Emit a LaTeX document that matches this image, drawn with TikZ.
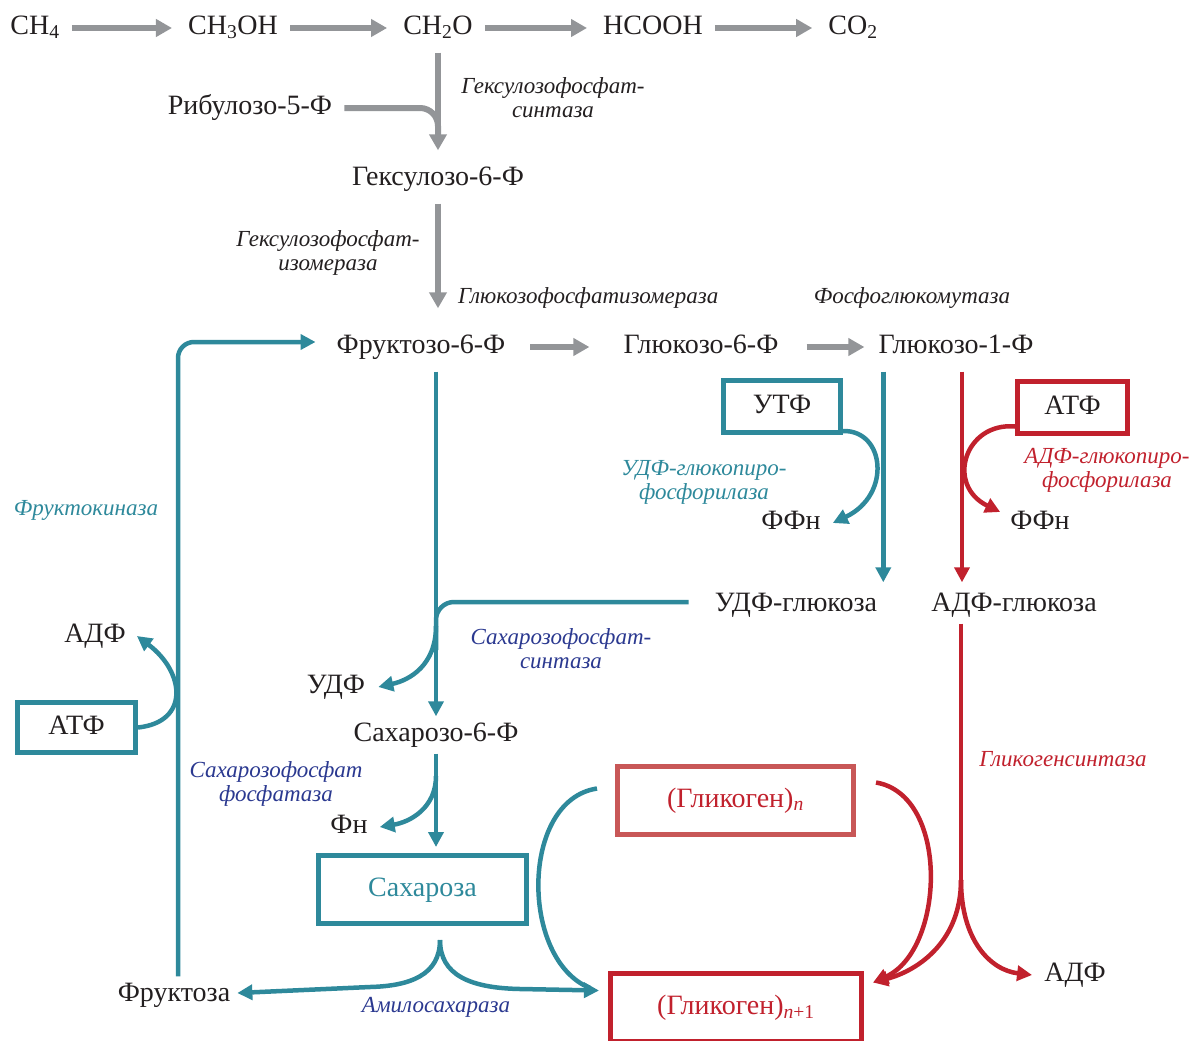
\documentclass[tikz,border=0pt]{standalone}
\usepackage{fontspec}
\setmainfont{Liberation Serif}
\usetikzlibrary{arrows.meta,positioning,calc}
\definecolor{cgray}{HTML}{939598}
\definecolor{cteal}{HTML}{2E899B}
\definecolor{cred}{HTML}{C1212D}
\definecolor{cpink}{HTML}{C85757}
\definecolor{cblue}{HTML}{2B3990}
\definecolor{ctext}{HTML}{231F20}
\tikzset{
  chem/.style={text=ctext, font=\fontsize{28}{30}\selectfont, text height=19pt, text depth=6pt, inner sep=6pt},
  enz/.style={font=\fontsize{23}{24}\selectfont\itshape, align=center, inner sep=0pt},
  boxed/.style={chem, draw, line width=5pt},
  grayarr/.style={draw=cgray, line width=6pt, shorten <=6pt, shorten >=10pt, -{Triangle[width=17pt,length=16pt]}},
  tealline/.style={draw=cteal, line width=4.5pt},
  tealarr/.style={tealline, -{Triangle[width=15pt,length=15pt]}},
  redline/.style={draw=cred, line width=4.5pt},
  redarr/.style={redline, -{Triangle[width=15pt,length=15pt]}}
}
\begin{document}
\begin{tikzpicture}[x=1pt, y=-1pt]
  \useasboundingbox (0,0) rectangle (1197,1041);
  \node[chem] (ch4) at (35,28) {CH\textsubscript{4}};
  \node[chem] (ch3oh) at (233,28) {CH\textsubscript{3}OH};
  \node[chem] (ch2o) at (438,28) {CH\textsubscript{2}O};
  \node[chem] (hcooh) at (653,28) {HCOOH};
  \node[chem] (co2) at (853,28) {CO\textsubscript{2}};
  \node[chem] (ribu) at (250,108) {Рибулозо-5-Ф};
  \node[chem] (hexu) at (438,179) {Гексулозо-6-Ф};
  \node[chem] (fru) at (421,347) {Фруктозо-6-Ф};
  \node[chem] (g6p) at (701,347) {Глюкозо-6-Ф};
  \node[chem] (g1p) at (956,347) {Глюкозо-1-Ф};
  \node[boxed, draw=cteal, minimum width=117pt, minimum height=52pt] (utp) at (782,406.5) {УТФ};
  \node[boxed, draw=cred, minimum width=110pt, minimum height=52pt] (atpR) at (1072.5,407.5) {АТФ};
  \node[chem] (ffnT) at (791,523) {ФФн};
  \node[chem] (ffnR) at (1040,523) {ФФн};
  \node[chem] (udpg) at (796,605) {УДФ-глюкоза};
  \node[chem] (adpg) at (1014,605) {АДФ-глюкоза};
  \node[chem] (adpL) at (95,636) {АДФ};
  \node[chem] (udp) at (336,687) {УДФ};
  \node[boxed, draw=cteal, minimum width=118pt, minimum height=50pt] (atpL) at (76.5,727.5) {АТФ};
  \node[chem] (s6p) at (436,735) {Сахарозо-6-Ф};
  \node[chem] (phn) at (349,827) {Фн};
  \node[boxed, draw=cteal, text=cteal, minimum width=208pt, minimum height=68pt] (sucrose) at (422.5,889.5) {Сахароза};
  \node[boxed, draw=cpink, text=cred, minimum width=236pt, minimum height=68pt] (glycn) at (735.5,800.5) {(Гликоген)\textsubscript{\textit{n}}};
  \node[boxed, draw=cred, text=cred, minimum width=251pt, minimum height=68pt] (glycn1) at (736,1007.5) {(Гликоген)\textsubscript{\textit{n}+1}};
  \node[chem] (fructose) at (174,995) {Фруктоза};
  \node[chem] (adpR) at (1075,975) {АДФ};

  \node[enz, text=ctext] (hexsynth) at (553,98) {Гексулозофосфат-\\синтаза};
  \node[enz, text=ctext] (hexiso) at (328,253) {Гексулозофосфат-\\изомераза};
  \node[enz, text=ctext, anchor=west] (gpi) at (458,298) {Глюкозофосфатизомераза};
  \node[enz, text=ctext] (pgm) at (912,298) {Фосфоглюкомутаза};
  \node[enz, text=cteal] (frk) at (86,510) {Фруктокиназа};
  \node[enz, text=cteal] (udpgpp) at (704,482) {УДФ-глюкопиро-\\фосфорилаза};
  \node[enz, text=cred] (adpgpp) at (1107,470) {АДФ-глюкопиро-\\фосфорилаза};
  \node[enz, text=cblue] (sps) at (561,649) {Сахарозофосфат-\\синтаза};
  \node[enz, text=cblue] (spp) at (276,784) {Сахарозофосфат\\фосфатаза};
  \node[enz, text=cblue] (amylo) at (436,1007) {Амилосахараза};
  \node[enz, text=cred] (glsynth) at (1063,759) {Гликогенсинтаза};

  \coordinate (rj) at (438,135);
  \coordinate (fjn) at (436,650);
  \coordinate (ub) at (436,626);
  \coordinate (pb) at (436,776);
  \coordinate (sb) at (440,940);
  \coordinate (rs) at (961,880);

  \foreach \a/\b in {ch4/ch3oh, ch3oh/ch2o, ch2o/hcooh, hcooh/co2}
    \draw[grayarr] (\a) -- (\b);
  \draw[grayarr] (ch2o) -- (hexu);
  \draw[draw=cgray, line width=6pt, rounded corners=18pt] ([xshift=6pt]ribu.east) -- (ribu.east -| rj) -- (rj);
  \draw[grayarr, shorten >=20pt] (hexu) -- (hexu |- fru.north);
  \draw[grayarr, shorten <=19pt, shorten >=28pt] (fru) -- (g6p);
  \draw[grayarr, shorten <=22pt, shorten >=8pt] (g6p) -- (g1p);

  \draw[tealarr, rounded corners=16pt] ([xshift=4pt]fructose.north) |- ([xshift=-15pt, yshift=5pt]fru.west);
  \draw[tealarr] (atpL.east) .. controls (190,722) and (185,672) .. ([xshift=5pt]adpL.east);
  \draw[tealarr, shorten <=6pt] ([xshift=15pt]fru.south) -- ([xshift=15pt]fru.south |- s6p.north);
  \draw[tealline, rounded corners=18pt] ([xshift=-20pt, yshift=3pt]udpg.west) -- ([yshift=3pt]udpg.west -| fjn) -- (fjn);
  \draw[tealarr] (ub) .. controls (436,665) and (410,680) .. ([xshift=7pt]udp.east);
  \draw[tealarr, shorten >=6pt] (s6p) -- (s6p |- sucrose.north);
  \draw[tealarr] (pb) .. controls (436,808) and (410,822) .. ([xshift=6pt]phn.east);
  \draw[tealarr] (sb) .. controls (440,975) and (410,986) .. (370,987) -- ([xshift=1pt, yshift=2pt]fructose.east);
  \draw[tealarr] (sb) .. controls (440,975) and (470,988) .. (520,989) -- ([xshift=-9pt, yshift=17pt]glycn1.west);
  \draw[tealline] ([xshift=-18pt, yshift=12pt]glycn.west) .. controls (520,800) and (520,960) .. (590,988);

  \draw[tealarr] ([yshift=-6pt]g1p.south -| udpg.east) -- ([yshift=4pt]udpg.north -| udpg.east);
  \draw[tealarr] ([yshift=4pt]utp.south east) .. controls (885,430) and (892,495) .. ([xshift=6pt]ffnT.east);
  \draw[redarr] ([xshift=6pt, yshift=-6pt]g1p.south) -- ([xshift=6pt, yshift=4pt]g1p.south |- adpg.north);
  \draw[redarr] ([yshift=-19pt]atpR.west) .. controls (965,422) and (945,485) .. ([xshift=-4pt, yshift=11pt]ffnR.west);

  \draw[redline] (adpg.south -| rs) -- (rs);
  \draw[redarr] (rs) .. controls (961,940) and (920,970) .. ([xshift=9pt, yshift=25pt]glycn1.east);
  \draw[redarr] (rs) .. controls (961,940) and (990,970) .. ([xshift=-6pt]adpR.west);
  \draw[redarr] ([xshift=20pt, yshift=18pt]glycn.east) .. controls (950,795) and (945,950) .. ([xshift=9pt, yshift=25pt]glycn1.east);
\end{tikzpicture}
\end{document}
